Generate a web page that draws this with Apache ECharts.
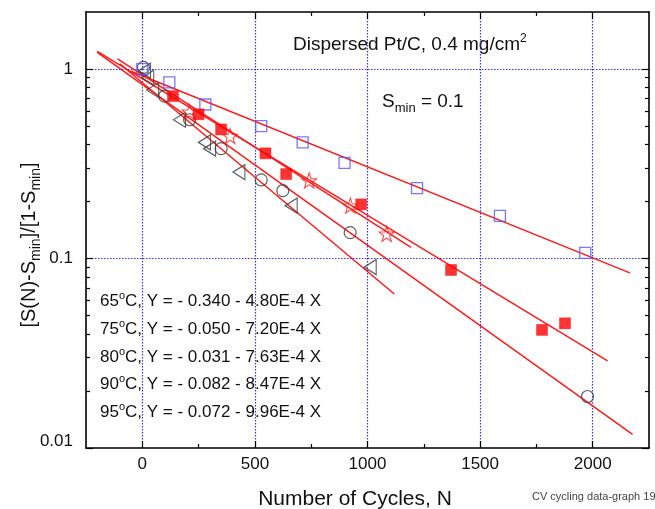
<!DOCTYPE html>
<html><head><meta charset="utf-8">
<script src="https://cdn.jsdelivr.net/npm/echarts@6/dist/echarts.min.js"></script>
<style>html,body{margin:0;padding:0;background:#fff}#c{width:655px;height:509px}</style>
</head><body><div id="c"></div>
<script>
// ---- axis ticks ----
const xRange = [-250, 2250];
const yRange = [0.01, 2];
const xMajorTicks = [0, 500, 1000, 1500, 2000];
const xTickLabels = ['0', '500', '1000', '1500', '2000'];
const xMinorTicks = [250, 750, 1250, 1750];
const yMajorTicks = [0.01, 0.1, 1];
const yTickLabels = ['0.01', '0.1', '1'];
const yMinorTicks = [0.02,0.03,0.04,0.05,0.06,0.07,0.08,0.09,0.2,0.3,0.4,0.5,0.6,0.7,0.8,0.9];

// ---- measured data (cycles N, normalized value) ----
const cyc65 = [0, 120, 280, 528, 712, 898, 1220, 1588, 1967];
const val65 = [1.0, 0.85, 0.65, 0.50, 0.41, 0.32, 0.235, 0.168, 0.107];
const cyc75 = [136, 250, 350, 547, 639, 972, 1371, 1775, 1877];
const val75 = [0.72, 0.577, 0.48, 0.359, 0.279, 0.193, 0.087, 0.042, 0.0455];
const cyc80 = [210, 390, 741, 924, 1085];
const val80 = [0.595, 0.443, 0.258, 0.19, 0.135];
const cyc90 = [5, 99, 210, 350, 528, 624, 923, 1977];
const val90 = [1.02, 0.72, 0.54, 0.38, 0.26, 0.228, 0.137, 0.0187];
const cyc95 = [10, 24, 46, 165, 276, 299, 429, 661, 1012];
const val95 = [0.98, 0.90, 0.775, 0.54, 0.41, 0.38, 0.286, 0.19, 0.09];

// ---- fit lines (end points) ----
const fit65 = [[-50, 0.973], [2165, 0.084]];
const fit75 = [[-200, 1.239], [2066, 0.0288]];
const fit80 = [[-110, 1.13], [1193, 0.1146]];
const fit90 = [[-200, 1.223], [2177, 0.0118]];
const fit95 = [[-100, 1.066], [1119, 0.065]];

const tempLabels = ['65', '75', '80', '90', '95'];
const eqTexts = ['Y = - 0.340 - 4.80E-4 X', 'Y = - 0.050 - 7.20E-4 X', 'Y = - 0.031 - 7.63E-4 X', 'Y = - 0.082 - 8.47E-4 X', 'Y = - 0.072 - 9.96E-4 X'];

const FONT = '"Liberation Sans", Arial, Helvetica, sans-serif';
const RED = '#ff1a1a';
const BLUE_M = '#5555ff';
const GRID = '#3030ff';
const DARK = '#3a3a3a';
const STAR = 'path://M50 0L61.76 33.82L97.55 34.55L69.02 56.18L79.39 90.45L50 70L20.61 90.45L30.98 56.18L2.45 34.55L38.24 33.82Z';

function pts(xs, ys) { return xs.map((x, i) => [x, ys[i]]); }
function near(a, b) { return Math.abs(Math.log10(a) - Math.log10(b)) < 1e-6; }

const chart = echarts.init(document.getElementById('c'), null, {renderer: 'canvas'});

const tickStyle = {color: '#000', width: 1.2};
function axLine(show) { return {show: show, onZero: false, lineStyle: {color: '#000', width: 1.6}}; }
function xAx(pos, major, withLabels) {
  return {
    type: 'value', min: xRange[0], max: xRange[1], position: pos,
    axisLine: axLine(major),
    axisTick: {show: true, inside: true, length: major ? 7 : 4, customValues: major ? xMajorTicks : xMinorTicks, lineStyle: tickStyle},
    axisLabel: withLabels ? {show: true, customValues: xMajorTicks, formatter: v => { const i = xMajorTicks.indexOf(v); return i >= 0 ? xTickLabels[i] : ''; }, fontSize: 17, color: '#111', fontFamily: FONT, margin: 8} : {show: false},
    splitLine: (major && pos === 'bottom') ? {show: true, lineStyle: {color: GRID, type: [1.5, 1.5], width: 1.2}} : {show: false}
  };
}
function yAx(pos, major, withLabels) {
  return {
    type: 'log', logBase: 10, min: yRange[0], max: yRange[1], position: pos,
    axisLine: axLine(major),
    axisTick: {show: true, inside: true, length: major ? 7 : 4, customValues: major ? yMajorTicks : yMinorTicks, lineStyle: tickStyle},
    axisLabel: withLabels ? {show: true, customValues: yMajorTicks, formatter: v => {
        for (let i = 0; i < yMajorTicks.length; i++) if (near(v, yMajorTicks[i])) return i === 0 ? '{lo|' + yTickLabels[i] + '}' : yTickLabels[i];
        return ''; },
      rich: {lo: {fontSize: 17, color: '#111', fontFamily: FONT, padding: [0, 0, 14, 0]}},
      fontSize: 17, color: '#111', fontFamily: FONT, margin: 13} : {show: false},
    splitLine: (major && pos === 'left') ? {show: true, lineStyle: {color: ['transparent', GRID, GRID], type: [1.5, 1.5], width: 1.2}} : {show: false}
  };
}

function fitSeries(d) {
  return {type: 'line', data: d, xAxisIndex: 0, yAxisIndex: 0, symbol: 'none', silent: true, z: 2,
    lineStyle: {color: RED, width: 1.5}};
}
function scat(data, symbol, size, style, rotate) {
  return {type: 'scatter', data: data, xAxisIndex: 0, yAxisIndex: 0, symbol: symbol, symbolSize: size, symbolRotate: rotate || 0, z: 3, silent: true, itemStyle: style};
}

const supRich = (fs) => ({sup: {fontSize: fs, fontFamily: FONT, fill: '#111', lineHeight: fs, verticalAlign: 'top'}});
const subRich = (fs) => ({sub: {fontSize: fs, fontFamily: FONT, fill: '#111', lineHeight: fs, verticalAlign: 'bottom'}});

const graphics = [
  {type: 'text', x: 293, y: 45, style: {text: 'Dispersed Pt/C, 0.4 mg/cm{sup|2}', fill: '#111', font: '19px ' + FONT, lineHeight: 24, verticalAlign: 'middle', align: 'left', rich: supRich(12)}},
  {type: 'text', x: 382, y: 102, style: {text: 'S{sub|min} = 0.1', fill: '#111', font: '19px ' + FONT, lineHeight: 26, verticalAlign: 'middle', align: 'left', rich: subRich(13)}},
  {type: 'text', x: 355, y: 499, style: {text: 'Number of Cycles, N', fill: '#111', font: '21px ' + FONT, verticalAlign: 'middle', align: 'center'}},
  {type: 'text', x: 532, y: 497, style: {text: 'CV cycling data-graph 19', fill: '#444', font: '11px ' + FONT, verticalAlign: 'middle', align: 'left'}},
  {type: 'text', x: 29, y: 245, rotation: Math.PI / 2, style: {text: '[S(N)-S{sub|min}]/[1-S{sub|min}]', fill: '#111', font: '20px ' + FONT, lineHeight: 28, verticalAlign: 'middle', align: 'center', rich: subRich(14)}}
];
const eqY = [301, 329, 357, 384, 412];
tempLabels.forEach((t, i) => {
  graphics.push({type: 'text', x: 100, y: eqY[i], style: {text: t + '{sup|o}C, ' + eqTexts[i], fill: '#111', font: '17px ' + FONT, lineHeight: 22, verticalAlign: 'middle', align: 'left', rich: supRich(11)}});
});

chart.setOption({
  animation: false,
  backgroundColor: '#fff',
  grid: {left: 86, right: 6, top: 12, bottom: 61, containLabel: false},
  xAxis: [xAx('bottom', true, true), xAx('bottom', false, false), xAx('top', true, false), xAx('top', false, false)],
  yAxis: [yAx('left', true, true), yAx('left', false, false), yAx('right', true, false), yAx('right', false, false)],
  graphic: graphics,
  series: [
    fitSeries(fit65), fitSeries(fit75), fitSeries(fit80), fitSeries(fit90), fitSeries(fit95),
    scat(pts(cyc90, val90), 'circle', 12, {color: 'rgba(0,0,0,0)', borderColor: DARK, borderWidth: 1.2}),
    scat(pts(cyc95, val95), 'triangle', [15, 12], {color: 'rgba(0,0,0,0)', borderColor: DARK, borderWidth: 1.2}, 90),
    scat(pts(cyc65, val65), 'rect', 11, {color: 'rgba(0,0,0,0)', borderColor: BLUE_M, borderWidth: 1.3}),
    scat(pts(cyc75, val75), 'rect', 11, {color: '#ff0000', borderColor: '#ff0000', borderWidth: 0.5}),
    scat(pts(cyc80, val80), STAR, 15, {color: 'rgba(0,0,0,0)', borderColor: RED, borderWidth: 1.1})
  ]
});
</script>
</body></html>
